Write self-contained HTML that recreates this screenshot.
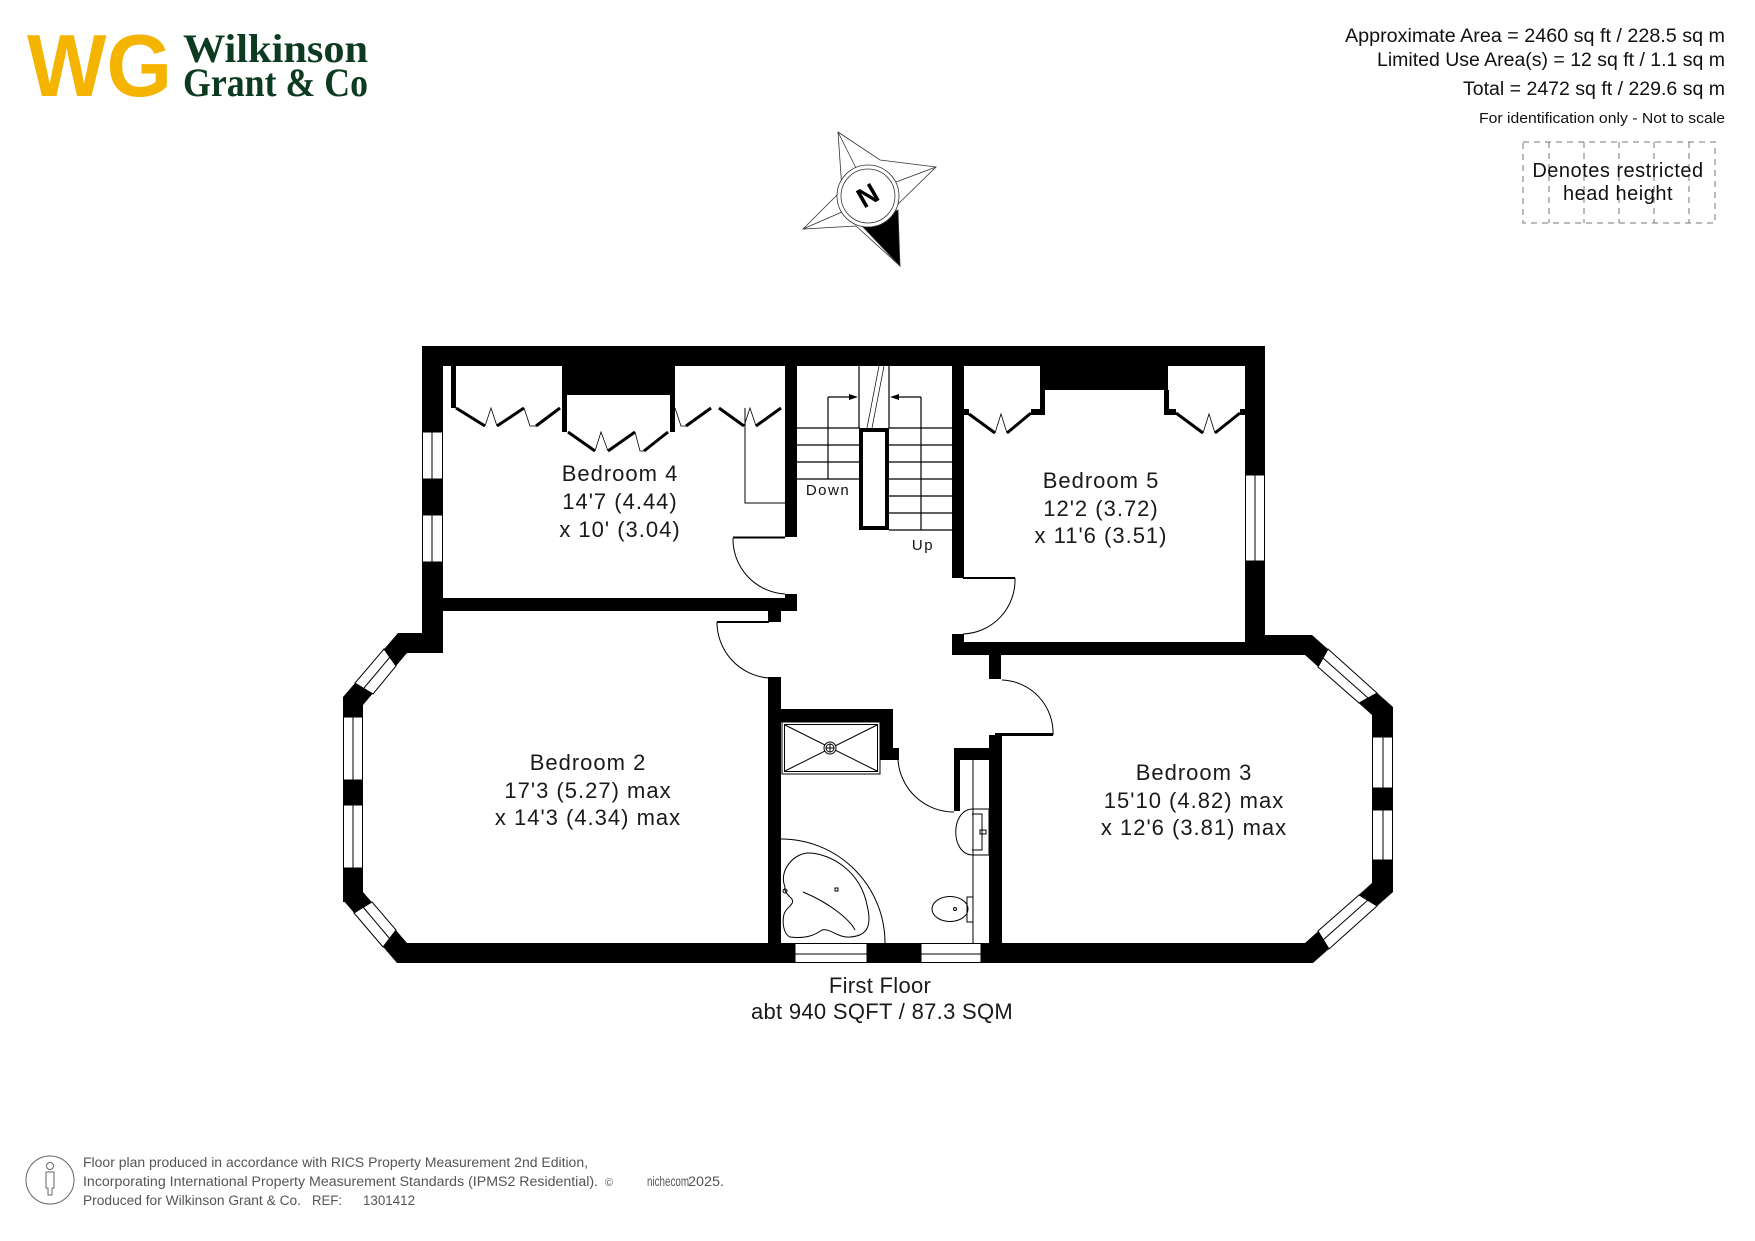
<!DOCTYPE html>
<html><head><meta charset="utf-8"><style>
html,body{margin:0;padding:0;background:#fff;}
svg{display:block;}
text{font-family:"Liberation Sans",sans-serif;}
</style></head><body>
<svg width="1755" height="1241" viewBox="0 0 1755 1241" xmlns="http://www.w3.org/2000/svg">
<rect width="1755" height="1241" fill="#fff"/>

<!-- Logo -->
<text x="27" y="96" font-size="88" font-weight="bold" fill="#f5b400" textLength="145" lengthAdjust="spacingAndGlyphs" style="font-family:'Liberation Sans',sans-serif">WG</text>
<text x="183" y="62" font-size="40" font-weight="bold" fill="#0d3b22" textLength="185" lengthAdjust="spacingAndGlyphs" style="font-family:'Liberation Serif',serif">Wilkinson</text>
<text x="183" y="96" font-size="40" font-weight="bold" fill="#0d3b22" textLength="185" lengthAdjust="spacingAndGlyphs" style="font-family:'Liberation Serif',serif">Grant &amp; Co</text>

<!-- Header right -->
<g fill="#111" text-anchor="end">
<text x="1725" y="42" font-size="19" textLength="380" lengthAdjust="spacingAndGlyphs">Approximate Area = 2460 sq ft / 228.5 sq m</text>
<text x="1725" y="66" font-size="19" textLength="348" lengthAdjust="spacingAndGlyphs">Limited Use Area(s) = 12 sq ft / 1.1 sq m</text>
<text x="1725" y="95" font-size="19" textLength="262" lengthAdjust="spacingAndGlyphs">Total = 2472 sq ft / 229.6 sq m</text>
<text x="1725" y="123" font-size="15" textLength="246" lengthAdjust="spacingAndGlyphs">For identification only - Not to scale</text>
</g>
<g stroke="#777" stroke-width="1" stroke-dasharray="6,5" fill="none">
<rect x="1523" y="142" width="192" height="81"/>
<line x1="1549" y1="142" x2="1549" y2="223"/><line x1="1584" y1="142" x2="1584" y2="223"/>
<line x1="1619" y1="142" x2="1619" y2="223"/><line x1="1654" y1="142" x2="1654" y2="223"/>
<line x1="1689" y1="142" x2="1689" y2="223"/>
</g>
<text x="1618" y="177" font-size="20" text-anchor="middle" fill="#111" letter-spacing="0.5">Denotes restricted</text>
<text x="1618" y="200" font-size="20" text-anchor="middle" fill="#111" letter-spacing="0.5">head height</text>

<!-- Compass -->
<g stroke="#333" stroke-width="0.8" fill="#fff">
<polygon points="838,132 880,160 936,167 894,208 900,266 856,226 803,229 842,190"/>
<line x1="838" y1="132" x2="856" y2="168"/><line x1="936" y1="167" x2="896" y2="182"/>
<line x1="803" y1="229" x2="842" y2="212"/>
<polygon points="862,226 900,266 898,210" fill="#000"/>
<circle cx="868" cy="196" r="31"/>
<circle cx="868" cy="196" r="27"/>
</g>
<text x="868" y="205" font-size="28" font-weight="bold" text-anchor="middle" transform="rotate(-30 868 196)">N</text>

<!-- Walls -->
<g fill="#000">
<rect x="422" y="346" width="843" height="20"/>
<rect x="422" y="346" width="21" height="307"/>
<polygon points="398,633 443,633 443,653 407,653 363,705 363,717 343,717 343,697"/>
<rect x="343" y="697" width="20" height="205"/>
<polygon points="343,880 363,880 363,892 407,943 407,963 397,963 343,900"/>
<rect x="397" y="943" width="916" height="20"/>
<polygon points="1305,943 1372,883 1372,870 1393,870 1393,892 1313,963 1305,963"/>
<rect x="1372" y="707" width="21" height="185"/>
<polygon points="1245,635 1312,635 1393,707 1393,720 1372,720 1372,715 1305,655 1245,655"/>
<rect x="952" y="642" width="360" height="13"/>
<rect x="1245" y="346" width="20" height="309"/>
<rect x="952" y="346" width="12" height="232"/>
<rect x="952" y="634" width="12" height="19"/>
<rect x="989" y="653" width="12" height="26"/>
<rect x="989" y="735" width="13" height="228"/>
<rect x="995" y="733" width="58" height="3"/>
<rect x="785" y="346" width="12" height="191"/>
<rect x="785" y="594" width="12" height="17"/>
<rect x="443" y="598" width="354" height="13"/>
<rect x="768" y="611" width="13" height="11"/>
<rect x="768" y="677" width="13" height="286"/>
<rect x="781" y="709" width="112" height="13"/>
<rect x="880" y="722" width="13" height="38"/>
<rect x="893" y="748" width="6" height="12"/>
<rect x="954" y="748" width="36" height="12"/>
<rect x="954" y="748" width="6" height="63"/>
<rect x="562" y="366" width="113" height="29"/>
<rect x="451" y="366" width="5" height="42"/>
<rect x="562" y="395" width="5" height="37"/>
<rect x="670" y="395" width="5" height="37"/>
<rect x="1040" y="366" width="128" height="24"/>
<rect x="1040" y="390" width="5" height="24"/>
<rect x="1164" y="390" width="5" height="24"/>
<rect x="1031" y="409" width="14" height="6"/>
<rect x="1164" y="409" width="12" height="6"/>
<rect x="963" y="409" width="6" height="6"/>
<rect x="1240" y="409" width="5" height="6"/>
</g>

<!-- Windows -->
<g fill="#fff" stroke="#000" stroke-width="1">
<rect x="422.5" y="432" width="20" height="47"/><line x1="432" y1="432" x2="432" y2="479"/>
<rect x="422.5" y="515" width="20" height="47"/><line x1="432" y1="515" x2="432" y2="562"/>
<rect x="1245.5" y="475" width="19" height="86"/><line x1="1255" y1="475" x2="1255" y2="561"/>
<rect x="343.5" y="717" width="19" height="63"/><line x1="353" y1="717" x2="353" y2="780"/>
<rect x="343.5" y="805" width="19" height="63"/><line x1="353" y1="805" x2="353" y2="868"/>
<rect x="1372.5" y="737" width="20" height="51"/><line x1="1383" y1="737" x2="1383" y2="788"/>
<rect x="1372.5" y="810" width="20" height="50"/><line x1="1383" y1="810" x2="1383" y2="860"/>
<rect x="795" y="943.5" width="72" height="19"/><line x1="795" y1="954" x2="867" y2="954"/>
<rect x="921" y="943.5" width="60" height="19"/><line x1="921" y1="954" x2="981" y2="954"/>
<polygon points="384,649 355,683 373,694 396,666"/><line x1="390" y1="657" x2="364" y2="688"/>
<polygon points="354,913 383,947 396,930 372,902"/><line x1="363" y1="907" x2="390" y2="939"/>
<polygon points="1328,649 1377,693 1359,703 1318,667"/><line x1="1323" y1="658" x2="1368" y2="698"/>
<polygon points="1377,906 1329,949 1318,931 1359,895"/><line x1="1368" y1="900" x2="1323" y2="940"/>
</g>

<!-- Doors -->
<g fill="none" stroke="#000" stroke-width="1">
<line x1="733" y1="537.5" x2="785" y2="537.5" stroke-width="2"/>
<path d="M733,538 A55,55 0 0 0 785,594"/>
<line x1="717" y1="622" x2="769" y2="622" stroke-width="2"/>
<path d="M717,622 A56,56 0 0 0 769,678"/>
<line x1="963" y1="578" x2="1015" y2="578" stroke-width="2"/>
<path d="M1015,578 A54,54 0 0 1 963,634"/>
<path d="M1053,735 A53,53 0 0 0 1002,680"/>
<path d="M898,760 A56,56 0 0 0 954,812"/>
</g>

<!-- Wardrobe bifold doors -->
<g fill="none" stroke="#000" stroke-width="3">
<line x1="456" y1="408" x2="485" y2="426"/><line x1="497" y1="426" x2="524" y2="408"/><line x1="536" y1="426" x2="560" y2="408"/>
<line x1="568" y1="432" x2="595" y2="451"/><line x1="608" y1="451" x2="635" y2="432"/><line x1="644" y1="451" x2="668" y2="432"/>
<line x1="686" y1="426" x2="711" y2="408"/><line x1="719" y1="408" x2="744" y2="426"/><line x1="756" y1="426" x2="781" y2="408"/>
<line x1="969" y1="414" x2="995" y2="433"/><line x1="1007" y1="433" x2="1031" y2="413"/>
<line x1="1176" y1="413" x2="1203" y2="433"/><line x1="1215" y1="433" x2="1240" y2="413"/>
</g>
<g fill="none" stroke="#000" stroke-width="0.8">
<path d="M485,426 L491,408 L497,426"/><path d="M524,408 L530,426 L536,426"/>
<path d="M595,451 L601,432 L608,451"/><path d="M635,432 L640,451 L644,451"/>
<path d="M675,408 L681,426 L686,426"/><path d="M744,426 L750,408 L756,426"/>
<path d="M995,433 L1001,414 L1007,433"/><path d="M1203,433 L1209,414 L1215,433"/>
<polyline points="745,408 745,503 785,503" stroke-width="1"/>
</g>

<!-- Stairs -->
<g fill="none" stroke="#000" stroke-width="1.2">
<line x1="797" y1="428" x2="860" y2="428"/><line x1="797" y1="445" x2="860" y2="445"/>
<line x1="797" y1="462" x2="860" y2="462"/><line x1="797" y1="479" x2="860" y2="479"/>
<line x1="828" y1="397" x2="828" y2="479"/><line x1="828" y1="397" x2="852" y2="397"/>
<line x1="859" y1="366" x2="859" y2="428"/><line x1="889" y1="366" x2="889" y2="428"/>
<line x1="889" y1="428" x2="952" y2="428"/><line x1="889" y1="445" x2="952" y2="445"/>
<line x1="889" y1="462" x2="952" y2="462"/><line x1="889" y1="479" x2="952" y2="479"/>
<line x1="889" y1="496" x2="952" y2="496"/><line x1="889" y1="513" x2="952" y2="513"/>
<line x1="889" y1="530" x2="952" y2="530"/>
<line x1="921" y1="397" x2="921" y2="530"/><line x1="921" y1="397" x2="896" y2="397"/>
<line x1="879" y1="366" x2="867" y2="428" stroke-width="0.7"/><line x1="884" y1="366" x2="872" y2="428" stroke-width="0.7"/>
<rect x="861" y="430" width="26" height="98" stroke-width="4"/>
</g>
<polygon points="858,397 849,394 849,400" fill="#000"/>
<polygon points="890,397 899,394 899,400" fill="#000"/>
<text x="828" y="495" font-size="15" text-anchor="middle" letter-spacing="1.5" fill="#111">Down</text>
<text x="923" y="550" font-size="15" text-anchor="middle" letter-spacing="1.5" fill="#111">Up</text>

<!-- Bathroom fixtures -->
<g fill="none" stroke="#000" stroke-width="1">
<rect x="782" y="722" width="98" height="52"/>
<rect x="784.5" y="724.5" width="93" height="47"/>
<line x1="785" y1="725" x2="877" y2="771"/><line x1="877" y1="725" x2="785" y2="771"/>
<circle cx="830" cy="748" r="6" fill="#fff"/><circle cx="830" cy="748" r="4"/>
<line x1="826" y1="748" x2="834" y2="748"/><line x1="830" y1="744" x2="830" y2="752"/>
<line x1="973" y1="760" x2="973" y2="943"/>
<rect x="973" y="809" width="16" height="46"/>
<path d="M973,809 C950,809 950,855 973,855"/>
<path d="M972,814 L982,814 L982,850 L972,850"/>
<rect x="980" y="830" width="6" height="4"/>
<ellipse cx="950" cy="909" rx="18" ry="12.5"/>
<rect x="967" y="897" width="6" height="25"/>
<path d="M781,839 A104,104 0 0 1 885,943"/>
<path d="M785,887 C778,870 795,852 810,853 C830,854 860,870 867,905 C872,925 868,936 850,937 C838,938 830,928 822,930 C815,935 806,939 790,937 C782,933 782,917 785,912 C788,906 797,903 790,897 C786,893 784,890 785,887 Z"/>
<path d="M803,892 C830,903 850,920 855,930"/>
<rect x="835" y="888" width="3" height="3"/>
<circle cx="785" cy="891" r="2"/>
<circle cx="955" cy="909" r="1.5"/>
</g>

<!-- Room labels -->
<g font-size="22" text-anchor="middle" fill="#1a1a1a" letter-spacing="1">
<text x="620" y="481">Bedroom 4</text><text x="620" y="509">14'7 (4.44)</text><text x="620" y="537">x 10' (3.04)</text>
<text x="1101" y="488">Bedroom 5</text><text x="1101" y="516">12'2 (3.72)</text><text x="1101" y="543">x 11'6 (3.51)</text>
<text x="588" y="770">Bedroom 2</text><text x="588" y="798">17'3 (5.27) max</text><text x="588" y="825">x 14'3 (4.34) max</text>
<text x="1194" y="780">Bedroom 3</text><text x="1194" y="808">15'10 (4.82) max</text><text x="1194" y="835">x 12'6 (3.81) max</text>
<text x="880" y="993" letter-spacing="0.3">First Floor</text>
<text x="882" y="1019" letter-spacing="0.3">abt 940 SQFT / 87.3 SQM</text>
</g>

<!-- Footer -->
<g stroke="#666" stroke-width="1" fill="none">
<circle cx="50" cy="1180" r="24"/>
<circle cx="50" cy="1166" r="3.5"/>
<path d="M46,1172 L54,1172 L54,1188 L52,1188 L52,1195 L48,1195 L48,1188 L46,1188 Z"/>
</g>
<g fill="#555" font-size="13.5">
<text x="83" y="1167" textLength="505" lengthAdjust="spacingAndGlyphs">Floor plan produced in accordance with RICS Property Measurement 2nd Edition,</text>
<text x="83" y="1186" textLength="515" lengthAdjust="spacingAndGlyphs">Incorporating International Property Measurement Standards (IPMS2 Residential).</text>
<text x="605" y="1186" font-size="11">©</text>
<text x="647" y="1186" textLength="42" lengthAdjust="spacingAndGlyphs">nichecom</text>
<text x="688" y="1186" textLength="36" lengthAdjust="spacingAndGlyphs">2025.</text>
<text x="83" y="1205" textLength="218" lengthAdjust="spacingAndGlyphs">Produced for Wilkinson Grant &amp; Co.</text>
<text x="312" y="1205" textLength="30" lengthAdjust="spacingAndGlyphs">REF:</text>
<text x="363" y="1205" textLength="52" lengthAdjust="spacingAndGlyphs">1301412</text>
</g>
</svg>
</body></html>
